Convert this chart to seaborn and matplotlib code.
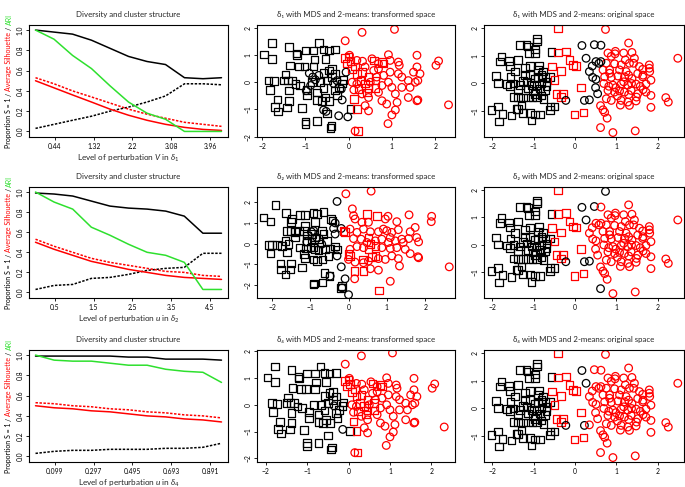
import numpy as np
import pandas as pd
import matplotlib
matplotlib.use("Agg")
import matplotlib.pyplot as plt
import seaborn as sns

# ---------------- line panels (left column) ----------------
level_d1 = [0, 0.42, 0.84, 1.27, 1.69, 2.11, 2.53, 2.95, 3.38, 3.80, 4.22]
level_d2 = [0, 0.48, 0.96, 1.44, 1.92, 2.40, 2.88, 3.36, 3.84, 4.32, 4.80]
level_d4 = [0, 0.095, 0.19, 0.285, 0.38, 0.475, 0.57, 0.665, 0.76, 0.855, 0.95]
ticks_d1 = [0.44, 1.32, 2.2, 3.08, 3.96]
ticks_d2 = [0.5, 1.5, 2.5, 3.5, 4.5]
ticks_d4 = [0.099, 0.297, 0.495, 0.693, 0.891]

prop_solid_d1 = [1.00, 0.98, 0.96, 0.90, 0.82, 0.74, 0.69, 0.66, 0.53, 0.52, 0.53]
prop_dotted_d1 = [0.03, 0.07, 0.11, 0.15, 0.20, 0.24, 0.29, 0.35, 0.47, 0.47, 0.46]
sil_solid_d1 = [0.50, 0.43, 0.36, 0.29, 0.22, 0.16, 0.11, 0.07, 0.04, 0.02, 0.01]
sil_dotted_d1 = [0.53, 0.47, 0.40, 0.34, 0.28, 0.22, 0.17, 0.13, 0.09, 0.07, 0.05]
ari_d1 = [1.00, 0.91, 0.75, 0.62, 0.45, 0.29, 0.18, 0.12, 0.00, 0.00, 0.00]

prop_solid_d2 = [0.99, 0.98, 0.96, 0.91, 0.86, 0.84, 0.83, 0.81, 0.76, 0.59, 0.59]
prop_dotted_d2 = [0.03, 0.07, 0.08, 0.14, 0.15, 0.18, 0.22, 0.24, 0.25, 0.39, 0.39]
sil_solid_d2 = [0.50, 0.43, 0.37, 0.31, 0.27, 0.23, 0.20, 0.17, 0.15, 0.14, 0.13]
sil_dotted_d2 = [0.53, 0.46, 0.40, 0.34, 0.30, 0.27, 0.24, 0.21, 0.20, 0.17, 0.16]
ari_d2 = [1.00, 0.90, 0.83, 0.65, 0.57, 0.48, 0.40, 0.37, 0.30, 0.03, 0.03]

prop_solid_d4 = [0.99, 0.99, 0.99, 0.99, 0.99, 0.98, 0.98, 0.96, 0.96, 0.96, 0.95]
prop_dotted_d4 = [0.03, 0.05, 0.06, 0.06, 0.07, 0.07, 0.07, 0.08, 0.08, 0.09, 0.13]
sil_solid_d4 = [0.50, 0.48, 0.47, 0.45, 0.44, 0.42, 0.40, 0.39, 0.37, 0.36, 0.34]
sil_dotted_d4 = [0.53, 0.52, 0.50, 0.49, 0.47, 0.46, 0.44, 0.43, 0.41, 0.40, 0.38]
ari_d4 = [1.00, 0.95, 0.94, 0.94, 0.92, 0.90, 0.90, 0.86, 0.84, 0.83, 0.73]

# ---------------- original space (shared coordinates) ----------------
orig_sq_black_x = [-1.83, -2.02, -1.86, -1.75, -1.91, -1.86, -1.65, -1.78, -1.82, -1.60, -1.57, -1.37,
                   -1.33, -1.17, -1.13, -0.92, -0.92, -1.11, -0.97, -0.97, -0.57, -1.56, -1.45, -1.21,
                   -1.09, -0.87, -1.57, -1.49, -1.37, -1.49, -1.37, -1.25, -1.13, -1.03, -0.92, -0.76,
                   -1.41, -1.53, -1.25, -1.09, -0.97, -0.85, -1.05, -1.21, -1.09, -0.97, -0.89, -0.81,
                   -0.71, -1.17, -1.05, -0.93, -1.13, -1.01, -0.85, -0.73, -0.81, -0.69, -1.33, -0.89,
                   -0.77, -1.25, -0.69, -0.61, -0.97, -0.81, -1.29, -1.37, -0.59, -0.49, -0.61]
orig_sq_black_y = [-1.37, -0.95, -0.83, -1.10, 0.27, 0.02, -0.02, 0.98, 0.79, 0.82, 0.63, 0.85,
                   1.38, 1.38, 1.34, 1.61, 1.52, 1.10, 1.22, 1.10, 1.13, 0.24, 0.43, 0.55,
                   0.63, 0.65, -0.10, 0.00, -0.22, -0.49, -0.51, -0.51, -0.51, -0.51, -0.51, -0.55,
                   -0.91, -1.16, -1.07, -1.07, -1.12, -1.12, -1.34, 0.30, 0.30, 0.18, 0.24, 0.30,
                   0.24, 0.06, -0.06, -0.06, -0.18, -0.27, -0.18, -0.24, 0.00, 0.06, -0.06, 0.49,
                   0.43, 0.10, -0.10, 0.24, -0.37, -0.43, -0.79, -0.91, -0.83, -0.83, -0.95]
orig_sq_red_x = [-0.41, -0.41, -0.22, -0.55, -0.33, -0.49, -0.45, -0.33, -0.29, -0.13, -0.05, 0.03,
                 0.15, -0.01, 0.21]
orig_sq_red_y = [1.98, 1.12, 1.16, 0.61, 0.46, 0.12, -0.37, -0.49, -0.37, 0.85, 0.67, 0.63,
                 -0.15, -1.12, -1.04]
# circles: always black / black for delta1+delta2 / black for delta1 only / black for delta2 only
orig_ci_core_x = [0.17, 0.27, -0.22, 0.23]
orig_ci_core_y = [1.37, 0.91, -0.61, -0.61]
orig_ci_d12_x = [0.47, 0.35]
orig_ci_d12_y = [1.40, -0.59]
orig_ci_d1_x = [0.63, 0.51, 0.63, 0.42, 0.35, 0.43, 0.51, 0.50, 0.55, 0.58]
orig_ci_d1_y = [1.38, 0.79, 0.79, 0.63, 0.43, 0.22, 0.15, -0.15, -0.37, 0.73]
orig_ci_d2_x = [0.74, 0.62]
orig_ci_d2_y = [1.95, -1.59]
orig_ci_red_x = [1.30, 0.80, 0.97, 1.38, 0.76, 0.96, 1.12, 1.32, 1.44, 1.42, 1.56, 1.80, 1.80, 2.49,
                 0.68, 0.84, 1.08, 1.24, 1.52, 1.64, 0.72, 0.88, 1.04, 1.20, 1.38, 1.64, 1.84, 0.70,
                 0.92, 1.12, 1.28, 1.48, 1.72, 0.80, 0.96, 1.08, 1.20, 1.36, 1.52, 1.72, 0.76, 0.88,
                 1.12, 1.28, 1.48, 1.84, 2.20, 2.26, 1.84, 0.68, 0.72, 0.78, 0.92, 1.46, 0.88, 0.98,
                 1.18, 1.22, 1.81, 1.65, 1.30, 0.84, 0.82, 0.99, 1.30, 1.49, 1.65, 1.10, 1.32, 0.62,
                 1.37, 1.18, 1.03, 1.58]
orig_ci_red_y = [1.46, 1.10, 1.07, 1.12, 0.73, 0.71, 0.67, 0.73, 0.91, 0.73, 0.61, 0.67, 0.55, 0.91,
                 0.49, 0.49, 0.49, 0.43, 0.36, 0.51, 0.24, 0.22, 0.27, 0.24, 0.18, 0.24, 0.12, 0.00,
                 -0.06, -0.02, -0.06, -0.02, -0.02, -0.25, -0.31, -0.27, -0.31, -0.25, -0.37, -0.31, -0.55, -0.61,
                 -0.61, -0.67, -0.63, -0.43, -0.51, -0.67, -0.86, -0.95, -1.04, -1.25, -1.77, -1.71, 0.98, 1.16,
                 1.10, 0.85, 0.43, 0.30, 0.30, 0.37, -0.10, -0.15, -0.40, -0.49, -0.22, -0.78, -0.79, -0.80,
                 0.00, 0.06, -0.45, -0.10]

# ---------------- transformed space, delta1 (also used for delta4) ----------------
t1_sq_black_x = [-1.96, -1.77, -1.78, -1.38, -1.21, -1.19, -1.00, -0.81, -0.68, -0.58, -0.46, -0.31,
                 -0.79, -0.54, -1.35, -1.15, -1.02, -0.81, -1.85, -1.73, -1.82, -1.46, -1.40, -1.50,
                 -1.31, -1.38, -1.65, -1.71, -1.63, -1.38, -1.42, -1.08, -1.00, -1.00, -0.73, -0.40,
                 -0.42, -0.50, -0.96, -0.96, -0.73, -0.73, -0.58, -0.50, -0.38, -0.31, -0.46, -0.38,
                 -0.58, -0.54, -0.45, -0.31, -0.23, -0.15, -0.12, -0.27, -0.65, -0.85, -1.12, 0.04,
                 -1.23, -0.62]
t1_sq_black_y = [1.02, 1.44, 0.86, 1.30, 1.05, 0.99, 1.17, 1.17, 1.44, 1.20, 1.17, 1.20,
                 0.83, 0.86, 0.62, 0.58, 0.58, 0.58, 0.06, 0.04, -0.28, 0.28, 0.06, 0.06,
                 0.06, -0.31, -0.64, -0.90, -1.07, -0.68, -0.93, -0.95, -1.44, -1.54, -1.42, -1.60,
                 -1.67, -1.15, -0.28, -0.49, -0.37, -0.65, -0.21, 0.06, 0.19, 0.31, 0.43, 0.49,
                 0.33, -0.56, -0.68, -0.31, -0.19, -0.04, 0.09, -0.49, 0.00, 0.00, -0.12, -0.99,
                 -0.06, -0.68]
t1_ci_black_x = [-0.91, -0.83, -0.77, -0.98, -0.88, -0.58, -0.52, -0.23, -0.02, -0.15, -0.06, -0.35,
                 -0.17, -0.27, -0.69]
t1_ci_black_y = [0.33, 0.19, 0.09, -0.31, -0.12, -1.02, -1.07, -1.23, -1.27, -0.65, 0.37, -0.04,
                 -0.25, 0.06, 0.25]
t1_sq_red_x = [-0.08, 0.00, 0.04, -0.04, 0.08, 0.15, 0.19, 0.31, 0.27, 0.38, 0.46, 0.62,
               0.23, 0.58, 0.77, 0.81, 0.42, 0.19, 0.22, 0.12, 0.46, 0.62]
t1_sq_red_y = [0.90, 0.95, 0.78, 0.68, 0.49, 0.58, 0.31, 0.37, 0.06, -0.04, -0.21, -0.21,
               -0.25, 0.80, 0.74, 0.68, -0.37, -0.99, -1.79, -0.62, 0.19, 0.06]
t1_ci_red_x = [-0.08, 0.31, 1.06, 0.02, 0.19, 0.32, 0.54, 0.69, 0.92, 0.96, 1.15, 1.17, 1.58, 1.58,
               2.08, 2.02, 2.31, 0.08, 0.12, 0.31, 0.46, 0.69, 0.77, 0.88, 1.00, 1.08, 1.12, 1.08,
               1.00, 0.91, 0.46, 0.38, 1.23, 1.38, 1.42, 1.54, 1.60, 1.65, 1.50, 1.38, 1.60, 1.58,
               1.15, 0.96, 0.81, 0.65, 0.58, 0.69, 0.38, 0.15, 0.50, 0.77, 0.92, 1.23, 0.19]
t1_ci_red_y = [1.52, 1.83, 1.94, 0.99, 0.80, 0.77, 0.86, 0.68, 1.01, 0.80, 0.74, 0.62, 0.99, 0.56,
               0.78, 0.62, -0.83, 0.00, -0.28, -0.43, -0.56, -0.37, -0.68, -0.80, -0.19, -0.43, -0.74, -1.02,
               -1.20, -1.52, -1.05, -0.86, 0.19, 0.06, -0.19, 0.00, 0.06, 0.31, 0.37, -0.56, -0.65, -0.68,
               0.31, 0.37, 0.25, 0.19, 0.43, 0.49, 0.56, -1.79, 0.00, -0.12, 0.00, -0.19, -0.06]
t4_ci_black_x = [-0.14, -0.35]
t4_ci_black_y = [-0.92, -0.04]

# ---------------- transformed space, delta2 ----------------
t2_sq_black_x = [-1.91, -2.22, -2.04, -1.63, -1.48, -1.50, -1.26, -1.13, -0.91, -0.83, -0.65, -0.87,
                 -1.13, -0.45, -0.42, -1.61, -1.52, -1.39, -1.30, -1.17, -0.96, -0.70, -0.65, -2.07,
                 -2.00, -2.04, -1.87, -1.65, -1.57, -1.61, -1.39, -1.74, -1.78, -1.77, -1.65, -1.50,
                 -1.52, -1.22, -1.17, -1.13, -1.09, -1.11, -0.99, -0.91, -0.87, -0.78, -0.91, -0.83,
                 -0.68, -0.61, -0.48, -0.57, -0.78, -0.87, -0.35, -0.30, -0.63, -0.50, -0.68, -0.91,
                 -0.90, -0.17, -0.19, -0.97, -1.09, -1.26, -0.52]
t2_sq_black_y = [1.88, 1.27, 1.06, 1.48, 1.19, 1.03, 1.39, 1.39, 1.48, 1.44, 1.52, 1.03,
                 0.86, 1.19, 1.11, 0.62, 0.62, 0.57, 0.62, 0.62, 0.46, 0.62, 0.46, -0.08,
                 -0.08, -0.49, -0.08, 0.13, -0.03, -0.44, 0.29, -0.11, -0.96, -1.26, -1.50, -0.96,
                 -1.26, -1.17, -0.52, -0.69, 0.13, -0.24, -0.20, -0.20, -0.28, -0.31, -0.77, -0.85,
                 -0.77, -0.28, -0.24, 0.13, 0.21, 0.29, -0.15, -0.28, -1.42, -1.58, -1.88, -1.99,
                 -1.94, -2.07, -2.15, 0.21, 0.38, -0.20, -0.60]
t2_ci_black_x = [-0.30, -0.97, -0.91, -0.35, -0.39, -0.19, -0.35, -1.09, -0.83, -0.30, -0.19, -0.48,
                 -0.09, 0.00, -0.17, -0.70]
t2_ci_black_y = [2.04, 0.57, 0.62, 1.00, 0.73, 0.73, 0.46, 0.08, 0.29, -0.60, -1.13, -1.58,
                 -1.71, -2.48, -2.15, -0.03]
t2_sq_red_x = [-0.13, -0.09, 0.48, 0.74, 0.00, 0.04, 0.16, 0.39, 0.61, 0.70, 0.52, 0.57,
               0.70, 0.80, 0.52, 0.37]
t2_sq_red_y = [0.62, 0.57, 1.44, 1.32, -0.52, -0.60, -1.34, -1.34, -0.64, -0.60, -0.28, -0.03,
               -0.11, -2.27, 0.29, -0.77]
t2_ci_red_x = [-0.07, 0.59, 0.10, 0.13, 0.17, 0.35, 0.52, 0.96, 1.03, 1.26, 1.58, 2.17, 2.16, 0.04,
               0.22, 0.39, 0.57, 0.78, 0.91, 1.00, 1.13, 1.30, 1.61, 1.74, 0.13, 0.33, 0.48, 0.87,
               1.09, 1.22, 1.39, 1.57, 1.78, 1.83, 0.04, 0.22, 0.39, 0.87, 1.09, 1.26, 1.48, 1.61,
               0.00, 0.17, 0.39, 0.52, 0.78, 0.96, 1.13, 1.30, 1.33, 1.81, 1.83, 2.63, 0.57, 0.78,
               0.16, 1.09, 1.04, 1.43, 0.70]
t2_ci_red_y = [2.41, 2.54, 1.68, 1.35, 1.19, 1.03, 1.03, 1.19, 1.32, 1.06, 1.39, 1.32, 1.06, 0.70,
               0.54, 0.70, 0.57, 0.57, 0.70, 0.62, 0.54, 0.67, 0.57, 0.78, 0.24, 0.21, 0.05, 0.21,
               0.29, 0.13, 0.21, 0.24, 0.29, 0.08, -0.28, -0.15, -0.20, -0.20, -0.24, -0.20, -0.28, -0.49,
               -0.77, -0.90, -0.93, -0.85, -0.73, -0.77, -0.60, -0.73, -1.09, -0.64, -0.69, -1.13, -1.22, -1.29,
               -1.71, -1.83, 0.05, 0.05, 0.13]

# ---------------- styling ----------------
sns.set_style("ticks")
plt.rcParams["font.family"] = ["Lato", "DejaVu Sans"]
plt.rcParams["mathtext.fontset"] = "custom"
plt.rcParams["mathtext.rm"] = "Lato"
plt.rcParams["mathtext.it"] = "Lato:italic"
plt.rcParams["mathtext.bf"] = "Lato:bold"
plt.rcParams["axes.linewidth"] = 0.8
plt.rcParams["axes.edgecolor"] = "black"

BLACK = "black"
RED = "#ff0000"
GREEN = "#2ee02e"
FS_TITLE = 5.7
FS_TICK = 4.9
FS_LABEL = 5.9
FS_YLABEL = 5.0

W, H = 685, 487
fig = plt.figure(figsize=(W / 100, H / 100), dpi=100)

row_px = [(25, 137), (187, 298), (350, 462)]
col_px = [(29, 228), (257, 455), (484, 684)]


def make_ax(r, c):
    (y0, y1), (x0, x1) = row_px[r], col_px[c]
    return fig.add_axes([x0 / W, 1 - y1 / H, (x1 - x0) / W, (y1 - y0) / H])


def style_ax(ax):
    for sp in ax.spines.values():
        sp.set_visible(True)
        sp.set_linewidth(0.8)
        sp.set_color("black")
    ax.tick_params(labelsize=FS_TICK, length=2.5, width=0.6, pad=1.5, colors="black")
    for lab in ax.get_yticklabels():
        lab.set_rotation(90)
        lab.set_va("center")
    ax.set_xlabel("")
    ax.set_ylabel("")


line_sets = [
    (level_d1, ticks_d1, prop_solid_d1, prop_dotted_d1, sil_solid_d1, sil_dotted_d1, ari_d1,
     r"$\mathrm{Level\ of\ perturbation\ }V\mathrm{\ in\ }\delta_1$"),
    (level_d2, ticks_d2, prop_solid_d2, prop_dotted_d2, sil_solid_d2, sil_dotted_d2, ari_d2,
     r"$\mathrm{Level\ of\ perturbation\ }u\mathrm{\ in\ }\delta_2$"),
    (level_d4, ticks_d4, prop_solid_d4, prop_dotted_d4, sil_solid_d4, sil_dotted_d4, ari_d4,
     r"$\mathrm{Level\ of\ perturbation\ }u\mathrm{\ in\ }\delta_4$"),
]

dot = (0, (1.6, 1.0))
left_axes = []
for r, (lv, tk, ps, pd_, ss, sd, ar, xl) in enumerate(line_sets):
    ax = make_ax(r, 0)
    left_axes.append(ax)
    sns.lineplot(x=lv, y=ps, color=BLACK, lw=1.1, ax=ax)
    sns.lineplot(x=lv, y=pd_, color=BLACK, lw=1.1, ls=dot, ax=ax)
    sns.lineplot(x=lv, y=ss, color=RED, lw=1.1, ax=ax)
    sns.lineplot(x=lv, y=sd, color=RED, lw=1.1, ls=dot, ax=ax)
    sns.lineplot(x=lv, y=ar, color=GREEN, lw=1.1, ax=ax)
    rng = lv[-1] - lv[0]
    ax.set_xlim(lv[0] - 0.035 * rng, lv[-1] + 0.035 * rng)
    ax.set_ylim(-0.055, 1.05)
    ax.set_xticks(tk)
    ax.set_xticklabels([str(t) for t in tk])
    ax.set_yticks([0, 0.2, 0.4, 0.6, 0.8, 1.0])
    ax.set_yticklabels(["0.0", "0.2", "0.4", "0.6", "0.8", "1.0"])
    style_ax(ax)
    ax.set_title("Diversity and cluster structure", fontsize=FS_TITLE, pad=6)
    ax.set_xlabel(xl, fontsize=FS_LABEL, labelpad=2)


def draw_groups(ax, groups):
    for gx, gy, marker, color in groups:
        sns.scatterplot(x=gx, y=gy, marker=marker, s=30, facecolor="none",
                        edgecolor=color, linewidth=0.9, ax=ax, legend=False)


# original-space groups per delta
orig_common = [
    (orig_sq_black_x, orig_sq_black_y, "s", BLACK),
    (orig_sq_red_x, orig_sq_red_y, "s", RED),
    (orig_ci_red_x, orig_ci_red_y, "o", RED),
    (orig_ci_core_x, orig_ci_core_y, "o", BLACK),
]
orig_d1 = orig_common + [
    (orig_ci_d12_x, orig_ci_d12_y, "o", BLACK),
    (orig_ci_d1_x, orig_ci_d1_y, "o", BLACK),
    (orig_ci_d2_x, orig_ci_d2_y, "o", RED),
]
orig_d2 = orig_common + [
    (orig_ci_d12_x, orig_ci_d12_y, "o", BLACK),
    (orig_ci_d1_x, orig_ci_d1_y, "o", RED),
    (orig_ci_d2_x, orig_ci_d2_y, "o", BLACK),
]
orig_d4 = orig_common + [
    (orig_ci_d12_x, orig_ci_d12_y, "o", RED),
    (orig_ci_d1_x, orig_ci_d1_y, "o", RED),
    (orig_ci_d2_x, orig_ci_d2_y, "o", RED),
]
trans_d1 = [
    (t1_sq_black_x, t1_sq_black_y, "s", BLACK),
    (t1_ci_black_x, t1_ci_black_y, "o", BLACK),
    (t1_sq_red_x, t1_sq_red_y, "s", RED),
    (t1_ci_red_x, t1_ci_red_y, "o", RED),
]
trans_d2 = [
    (t2_sq_black_x, t2_sq_black_y, "s", BLACK),
    (t2_ci_black_x, t2_ci_black_y, "o", BLACK),
    (t2_sq_red_x, t2_sq_red_y, "s", RED),
    (t2_ci_red_x, t2_ci_red_y, "o", RED),
]
trans_d4 = [
    (t1_sq_black_x, t1_sq_black_y, "s", BLACK),
    (t4_ci_black_x, t4_ci_black_y, "o", BLACK),
    (t1_sq_red_x, t1_sq_red_y, "s", RED),
    (t1_ci_red_x, t1_ci_red_y, "o", RED),
]

scatter_panels = [
    (0, 1, trans_d1, (-2.12, 2.46), (-2.01, 2.1), [-2, -1, 0, 1, 2],
     "\u03b4\u2081 with MDS and 2-means: transformed space"),
    (0, 2, orig_d1, (-2.2, 2.64), (-1.93, 2.11), [-1, 0, 1, 2],
     "\u03b4\u2081 with MDS and 2-means: original space"),
    (1, 1, trans_d2, (-2.39, 2.78), (-2.64, 2.74), [-2, -1, 0, 1, 2],
     "\u03b4\u2082 with MDS and 2-means: transformed space"),
    (1, 2, orig_d2, (-2.2, 2.64), (-1.93, 2.11), [-1, 0, 1, 2],
     "\u03b4\u2082 with MDS and 2-means: original space"),
    (2, 1, trans_d4, (-2.21, 2.57), (-2.14, 2.05), [-2, -1, 0, 1, 2],
     "\u03b4\u2084 with MDS and 2-means: transformed space"),
    (2, 2, orig_d4, (-2.2, 2.64), (-1.93, 2.11), [-1, 0, 1, 2],
     "\u03b4\u2084 with MDS and 2-means: original space"),
]

for r, c, groups, xl, yl, yt, title in scatter_panels:
    ax = make_ax(r, c)
    draw_groups(ax, groups)
    ax.set_xlim(*xl)
    ax.set_ylim(*yl)
    ax.set_xticks([-2, -1, 0, 1, 2])
    ax.set_xticklabels(["\u22122", "\u22121", "0", "1", "2"])
    ax.set_yticks(yt)
    ax.set_yticklabels([("\u2212" + str(-v)) if v < 0 else str(v) for v in yt])
    style_ax(ax)
    ax.set_title(title, fontsize=FS_TITLE, pad=6)

# multi-coloured y labels on the left column
renderer = fig.canvas.get_renderer()
parts = [("Proportion S = 1", BLACK), ("/", BLACK), ("Average Silhouette", RED), ("/", BLACK), ("ARI", GREEN)]


def text_len(s):
    t = fig.text(0, 0, s, fontsize=FS_YLABEL)
    w = t.get_window_extent(renderer).width
    t.remove()
    return w


gap = text_len("a a") - text_len("aa")
widths = [text_len(s) for s, _ in parts]
total = sum(widths) + gap * (len(parts) - 1)
for ax in left_axes:
    bb = ax.get_position()
    yc = (bb.y0 + bb.y1) / 2 * H
    y = yc - total / 2
    for (s, col), w in zip(parts, widths):
        fig.text(9 / W, y / H, s, color=col, fontsize=FS_YLABEL, rotation=90,
                 ha="center", va="bottom")
        y += w + gap

fig.savefig("out.png", dpi=100)
